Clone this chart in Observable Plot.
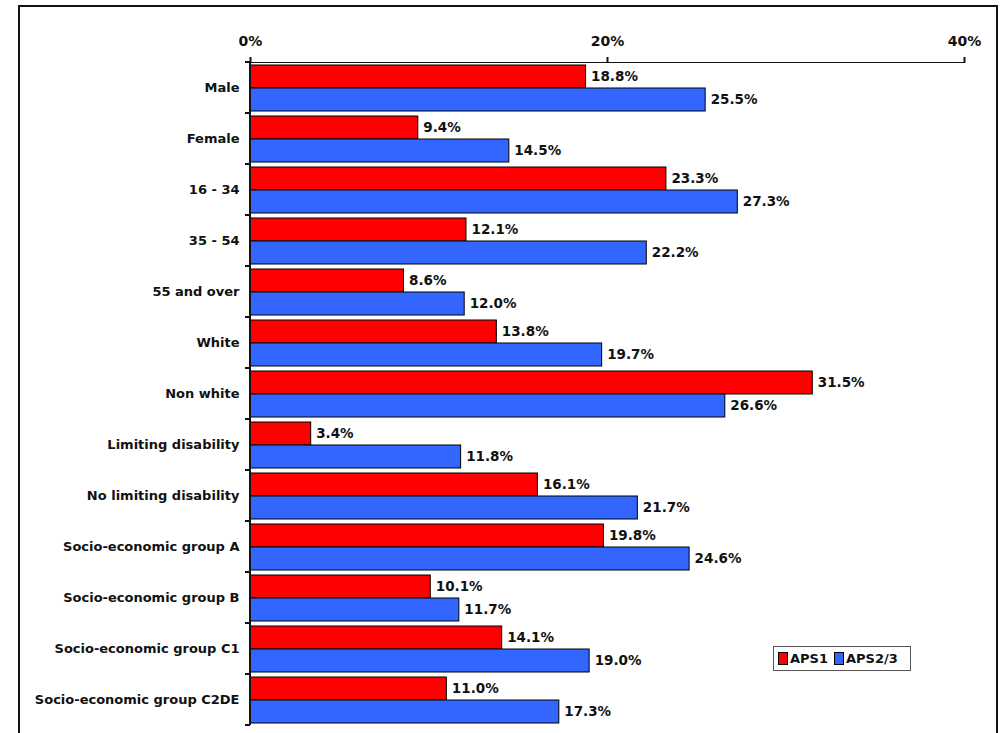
<!DOCTYPE html>
<html>
<head>
<meta charset="utf-8">
<script src="https://cdn.jsdelivr.net/npm/d3@7"></script>
<script src="https://cdn.jsdelivr.net/npm/@observablehq/plot@0.6"></script>
<style>
  html, body { margin: 0; padding: 0; background: #fff; }
  #wrap { position: relative; width: 1004px; height: 733px; overflow: hidden; }
  #border { position: absolute; left: 18px; top: 5px; width: 980px; height: 740px; border: 2px solid #111; box-sizing: border-box; }
  #chart { position: absolute; left: 0; top: 0; }
  #legend { position: absolute; left: 773px; top: 646px; width: 138px; height: 25px; border: 1px solid #555; box-sizing: border-box; background: #fff;
    font: bold 13px "DejaVu Sans", Verdana, sans-serif; color: #111; display: flex; align-items: center; padding-left: 4px; gap: 2px; }
  #legend .sw { display: inline-block; width: 8px; height: 11px; border: 1px solid #000; }
  #legend .item { display: flex; align-items: center; gap: 2px; margin-right: 4px; }
</style>
</head>
<body>
<div id="wrap">
  <div id="border"></div>
  <div id="chart"></div>
  <div id="legend"></div>
</div>
<script>
const categories = ["Male", "Female", "16 - 34", "35 - 54", "55 and over", "White", "Non white",
  "Limiting disability", "No limiting disability", "Socio-economic group A",
  "Socio-economic group B", "Socio-economic group C1", "Socio-economic group C2DE"];
const seriesNames = ["APS1", "APS2/3"];
const aps1 = [18.8, 9.4, 23.3, 12.1, 8.6, 13.8, 31.5, 3.4, 16.1, 19.8, 10.1, 14.1, 11.0];
const aps23 = [25.5, 14.5, 27.3, 22.2, 12.0, 19.7, 26.6, 11.8, 21.7, 24.6, 11.7, 19.0, 17.3];
const colors = ["#ff0000", "#3366ff"];
const xTicks = [0, 20, 40];

(function () {
const data = [];
categories.forEach((c, i) => {
  data.push({category: c, series: seriesNames[0], value: aps1[i]});
  data.push({category: c, series: seriesNames[1], value: aps23[i]});
});

const font = '"DejaVu Sans", Verdana, sans-serif';

const plot = Plot.plot({
  width: 1004,
  height: 733,
  marginLeft: 250,
  marginRight: 40,
  marginTop: 60,
  marginBottom: 6,
  style: {fontFamily: font, fontSize: "13px", fontWeight: "bold", color: "#111", background: "transparent"},
  x: {domain: [0, 40], axis: "top", ticks: xTicks, tickFormat: d => d + "%", tickSize: 6, tickPadding: 11, label: null, line: true},
  y: {domain: seriesNames, axis: null, paddingInner: 0, paddingOuter: 0.1},
  fy: {domain: categories, padding: 0, axis: "left", tickSize: 0, tickPadding: 11, label: null},
  color: {domain: seriesNames, range: colors},
  marks: [
    Plot.barX(data, {x: "value", y: "series", fy: "category", fill: "series", stroke: "#000", strokeWidth: 1}),
    Plot.text(data, {x: "value", y: "series", fy: "category", text: d => d.value.toFixed(1) + "%", textAnchor: "start", dx: 5, fill: "#111", fontSize: 13.5})
  ]
});
document.getElementById("chart").appendChild(plot);

const sel = d3.select(plot);
sel.selectAll('[aria-label="x-axis tick"]').attr("stroke-width", 2);
sel.selectAll('[aria-label="x-axis line"]').attr("stroke-width", 2);
sel.selectAll('[aria-label="x-axis tick label"]').attr("font-size", 14);

// left axis line with ticks at category boundaries, from the plot's own scales
const fy = plot.scale("fy");
const xs = plot.scale("x");
const x0 = xs.apply(0);
const bw = fy.bandwidth;
const g = sel.append("g").attr("stroke", "#111").attr("stroke-width", 2);
const yTop = fy.apply(categories[0]);
const yBottom = fy.apply(categories[categories.length - 1]) + bw;
g.append("line").attr("x1", x0).attr("x2", x0).attr("y1", yTop).attr("y2", yBottom);
categories.forEach((c) => {
  const y = fy.apply(c);
  g.append("line").attr("x1", x0 - 5).attr("x2", x0).attr("y1", y).attr("y2", y);
});
g.append("line").attr("x1", x0 - 5).attr("x2", x0).attr("y1", yBottom).attr("y2", yBottom);

const leg = document.getElementById("legend");
seriesNames.forEach((s, i) => {
  const item = document.createElement("span");
  item.className = "item";
  const sw = document.createElement("span");
  sw.className = "sw";
  sw.style.background = colors[i];
  item.appendChild(sw);
  item.appendChild(document.createTextNode(s));
  leg.appendChild(item);
});
})();
</script>
</body>
</html>
